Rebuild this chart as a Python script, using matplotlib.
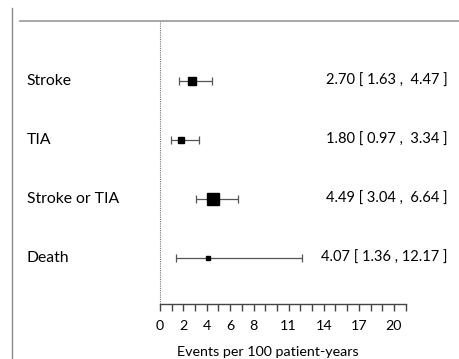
import matplotlib
matplotlib.use('Agg')
import matplotlib.pyplot as plt

# forest plot data
labels = ['Stroke', 'TIA', 'Stroke or TIA', 'Death']
est = [2.70, 1.80, 4.49, 4.07]
lower = [1.63, 0.97, 3.04, 1.36]
upper = [4.47, 3.34, 6.64, 12.17]
box_sizes = [5.8, 5.0, 8.6, 2.9]
tick_vals = list(range(0, 22))
tick_labels = [0, 2, 4, 6, 8, 11, 14, 17, 20]

plt.rcParams['font.family'] = ['Lato', 'DejaVu Sans']

fig = plt.figure(figsize=(4.59, 3.59), dpi=100)
ax = fig.add_axes([0, 0, 1, 1])
ax.set_xlim(-13.675, 25.56)
ax.set_ylim(-0.712, 5.373)
ax.axis('off')

rows = [4, 3, 2, 1]

# frame lines
ax.plot([-12.65, -12.65], [-0.712, 5.237], color='#8a8a8a', lw=1)
ax.plot([-11.97, 25.56], [5.017, 5.017], color='#999999', lw=1.2)
ax.plot([0, 0], [0.22, 5.017], color='#777777', lw=0.8, ls=(0, (1, 1)))

for y, lab, e, lo, hi, s in zip(rows, labels, est, lower, upper, box_sizes):
    ax.errorbar(e, y, xerr=[[e - lo], [hi - e]], fmt='none', ecolor='#555555',
                elinewidth=0.9, capsize=3.2, capthick=0.9)
    ax.plot(e, y, marker='s', ms=s, color='black', mec='black')
    ax.text(-11.37, y, lab, ha='left', va='center', fontsize=11.3)
    txt = f'{e:.2f} [{lo:5.2f} , {hi:5.2f} ]'
    ax.text(24.6, y, txt, ha='right', va='center', fontsize=10.5)

# x axis
ax.plot([tick_vals[0], tick_vals[-1]], [0.22, 0.22], color='#444444', lw=1)
ax.vlines(tick_vals, 0.22, 0.10, color='#444444', lw=1)
for t in tick_labels:
    ax.text(t, -0.15, str(t), ha='center', va='center', fontsize=10.3)
ax.text(9.2, -0.6, 'Events per 100 patient-years', ha='center', va='center', fontsize=10.3)

plt.savefig('out.png', dpi=100)
